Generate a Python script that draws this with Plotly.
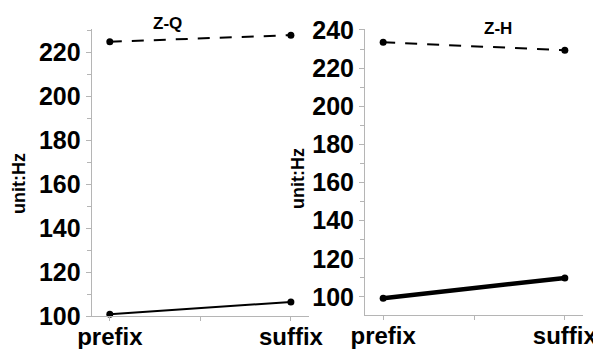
import plotly.graph_objects as go

categories = ["prefix", "suffix"]
zq_dashed = [224.7, 227.7]
zq_solid = [100.8, 106.4]
zh_dashed = [233.5, 229.4]
zh_solid = [99.3, 109.9]
titles = ["Z-Q", "Z-H"]
y_label = "unit:Hz"

xpos = list(range(len(categories)))
FONT = "Liberation Sans, Arial, sans-serif"
W, H, OFF = 601, 349, 8

def fx(px):
    return (px - OFF) / W

def fy(py):
    return 1 - (py - OFF) / H

fig = go.Figure()

def add_series(y, xa, ya, dash, width):
    fig.add_trace(go.Scatter(
        x=xpos, y=y, xaxis=xa, yaxis=ya, mode="lines+markers",
        line=dict(color="black", width=width, dash=dash),
        marker=dict(color="black", size=7), showlegend=False, cliponaxis=False))

add_series(zq_dashed, "x", "y", "12px,10px", 2)
add_series(zq_solid, "x", "y", "solid", 2)
add_series(zh_dashed, "x2", "y2", "12px,10px", 2)
add_series(zh_solid, "x2", "y2", "solid", 4.5)

axis_common = dict(
    showline=True, linecolor="#b5b5b5", linewidth=1, showgrid=False, zeroline=False,
    ticks="outside", tickcolor="#b5b5b5", ticklen=5, tickwidth=1, automargin=False,
    tickfont=dict(family=FONT, size=25, color="black", weight="bold"),
)

xax = dict(axis_common, range=[-0.1, 1.1], tickvals=xpos, ticktext=categories, ticklen=4,
           ticklabelstandoff=-5,
           tickfont=dict(family=FONT, size=24, color="black", weight="bold"),
           minor=dict(tickvals=[0.5], ticks="outside", ticklen=4, tickcolor="#b5b5b5"))

fig.update_layout(
    width=W, height=H, margin=dict(l=0, r=0, t=0, b=0),
    paper_bgcolor="white", plot_bgcolor="white",
    xaxis=dict(xax, domain=[fx(91.7), fx(309)], anchor="y"),
    xaxis2=dict(xax, domain=[fx(365), fx(583)], anchor="y2"),
    yaxis=dict(axis_common, domain=[fy(316), fy(29)], range=[100, 230.5], dtick=20,
               anchor="x", minor=dict(dtick=10, ticks="outside", ticklen=4, tickcolor="#b5b5b5")),
    yaxis2=dict(axis_common, domain=[fy(315), fy(29)], range=[90.5, 240.5], dtick=20,
                tick0=100, anchor="x2",
                minor=dict(dtick=10, ticks="outside", ticklen=4, tickcolor="#b5b5b5")),
)

ann = [
    dict(x=167, y=23, text=titles[0], size=17, angle=0),
    dict(x=498, y=28, text=titles[1], size=17, angle=0),
    dict(x=19, y=184, text=y_label, size=18, angle=-90),
    dict(x=298, y=179, text=y_label, size=18, angle=-90),
]
for a in ann:
    fig.add_annotation(x=fx(a["x"]), y=fy(a["y"]), xref="paper", yref="paper",
                       text=a["text"], showarrow=False, textangle=a["angle"],
                       xanchor="center", yanchor="middle",
                       font=dict(family=FONT, size=a["size"], color="black", weight="bold"))

fig.write_html("out.html")
